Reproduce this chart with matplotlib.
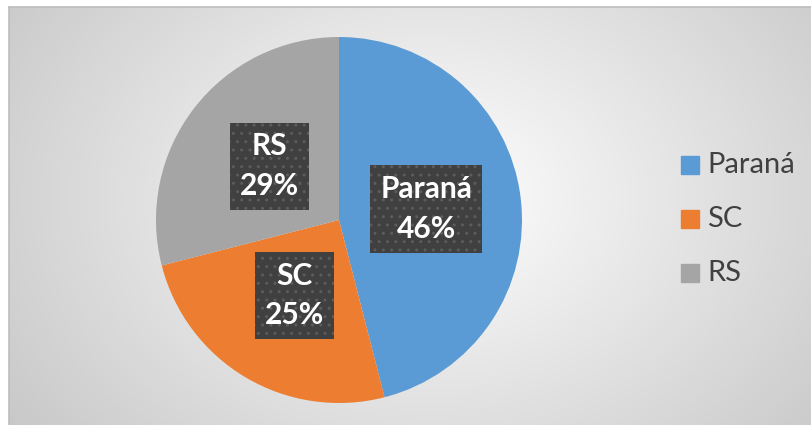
import numpy as np
import matplotlib.pyplot as plt

# dados do grafico
estados = ['Paraná', 'SC', 'RS']
percentuais = [46, 25, 29]
cores = ['#5B9BD5', '#ED7D31', '#A5A5A5']

plt.rcParams['font.family'] = ['Lato', 'DejaVu Sans']

fig = plt.figure(figsize=(8.11, 4.25), dpi=100)
fig.patch.set_facecolor('white')

# fundo com gradiente radial
ax_bg = fig.add_axes([9 / 811, 0, 802 / 811, 418 / 425])
yy, xx = np.mgrid[0:418, 0:802]
dist = np.sqrt(((xx - 420) / 560.0) ** 2 + ((yy - 190) / 420.0) ** 2)
dist = np.clip(dist / 0.95, 0, 1)
gris = 1.0 - 0.22 * dist
ax_bg.imshow(np.dstack([gris, gris, gris]), aspect='auto', extent=[0, 1, 0, 1], origin='upper')
ax_bg.set_xlim(0, 1)
ax_bg.set_ylim(0, 1)
ax_bg.set_xticks([])
ax_bg.set_yticks([])
for lado in ['right', 'bottom']:
    ax_bg.spines[lado].set_visible(False)
for lado in ['top', 'left']:
    ax_bg.spines[lado].set_color('#bdbdbd')
    ax_bg.spines[lado].set_linewidth(1.2)

# pizza
cx, cy, r = 339, 425 - 220, 183
ax = fig.add_axes([(cx - r) / 811, (cy - r) / 425, 2 * r / 811, 2 * r / 425])
ax.set_facecolor('none')
fatias, _ = ax.pie(percentuais, colors=cores, startangle=90, counterclock=False,
                   radius=1.0, wedgeprops=dict(linewidth=0))
ax.set_xlim(-1, 1)
ax.set_ylim(-1, 1)
ax.set_aspect('equal')
ax.axis('off')

for fatia, nome, p in zip(fatias, estados, percentuais):
    ang = np.deg2rad((fatia.theta1 + fatia.theta2) / 2)
    ax.text(0.48 * np.cos(ang), 0.48 * np.sin(ang), f'{nome}\n{p}%',
            ha='center', va='center', color='white', fontsize=21.5,
            fontweight='bold', linespacing=1.5,
            bbox=dict(boxstyle='square,pad=0.33', facecolor='#404040',
                      edgecolor='#5c5c5c', linewidth=0, hatch='..'))

# legenda
ax_leg = fig.add_axes([0, 0, 1, 1])
ax_leg.set_xlim(0, 811)
ax_leg.set_ylim(425, 0)
ax_leg.axis('off')
ax_leg.set_facecolor('none')
for i, (nome, cor) in enumerate(zip(estados, cores)):
    y = 165 + i * 54
    ax_leg.add_patch(plt.Rectangle((681, y - 9), 18, 18, color=cor))
    ax_leg.text(707, y, nome, va='center', ha='left', fontsize=21, color='#404040')

fig.savefig('out.png', dpi=100)
